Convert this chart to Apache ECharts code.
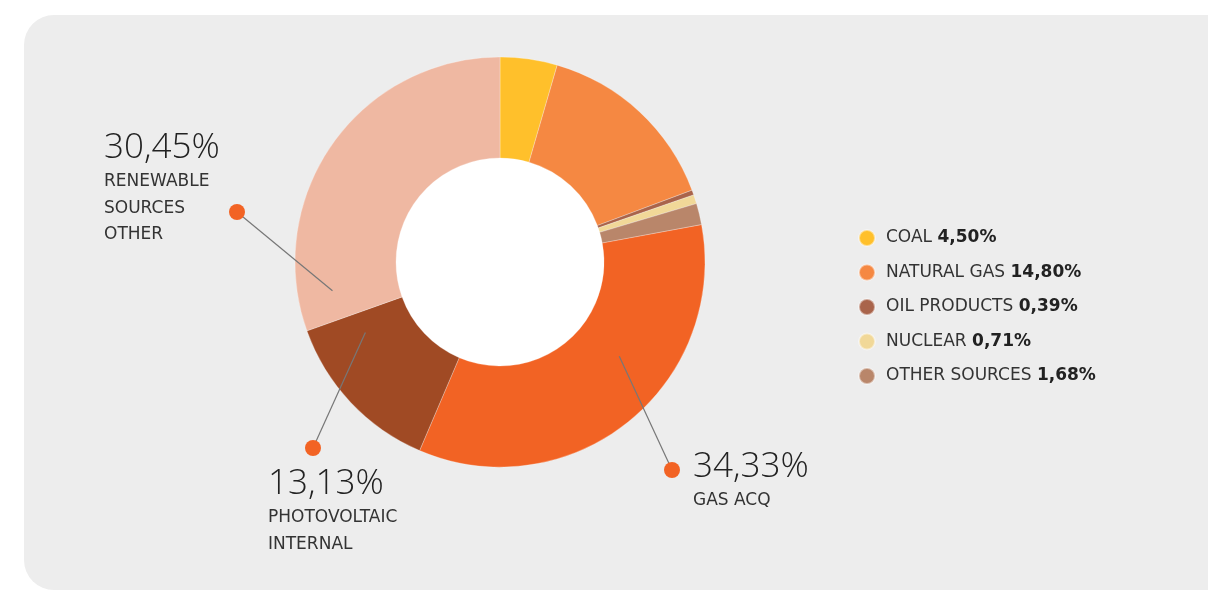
<!DOCTYPE html>
<html>
<head>
<meta charset="utf-8">
<title>Energy mix</title>
<script src="https://cdn.jsdelivr.net/npm/echarts@6/dist/echarts.min.js"></script>
<style>
  html, body { margin: 0; padding: 0; background: #ffffff; }
  #chart { width: 1208px; height: 591px; }
</style>
</head>
<body>
<div id="chart"></div>
<script>
// Energy sources, in slice order (clockwise from 12 o'clock)
const names = ['COAL', 'NATURAL GAS', 'OIL PRODUCTS', 'NUCLEAR', 'OTHER SOURCES',
               'GAS ACQ', 'PHOTOVOLTAIC\nINTERNAL', 'RENEWABLE\nSOURCES\nOTHER'];
const values = [4.50, 14.80, 0.39, 0.71, 1.68, 34.33, 13.13, 30.45];
const colors = ['#FFC02B', '#F58842', '#A9644B', '#F1D898', '#B9866A',
                '#F26324', '#A04A24', '#EFB8A2'];
// Small shares go in the legend, large ones get a callout
const legendNames = ['COAL', 'NATURAL GAS', 'OIL PRODUCTS', 'NUCLEAR', 'OTHER SOURCES'];
const calloutIdx = [7, 6, 5];

const FONT_BIG = '"Open Sans", "DejaVu Sans", sans-serif';
const FONT = '"DejaVu Sans", sans-serif';
const CX = 500, CY = 262, R0 = 104, R1 = 205;

const fmt = v => v.toFixed(2).replace('.', ',') + '%';

// Callout layout: where along the slice the leader starts, and where the dot / text sit
const calloutLayout = {
  7: { t: 0.09, r: 170, dot: [237, 212], text: [104, 148] },
  6: { t: 0.83, r: 152, dot: [313, 448], text: [268, 484] },
  5: { t: 0.395, r: 152, dot: [672, 470], text: [693, 467] }
};

const total = values.reduce((a, b) => a + b, 0);
const graphics = [{
  type: 'rect', z: -10, silent: true,
  shape: { x: 24, y: 15, width: 1260, height: 575, r: 30 },
  style: { fill: '#EDEDED' }
}, {
  // white disc inside the ring
  type: 'circle', z: -9, silent: true,
  shape: { cx: CX, cy: CY, r: R0 + 1 },
  style: { fill: '#ffffff' }
}];

// Angular span of each slice, from the data
let acc = 0;
const spans = values.map(v => {
  const a0 = -Math.PI / 2 + acc / total * Math.PI * 2;
  acc += v;
  const a1 = -Math.PI / 2 + acc / total * Math.PI * 2;
  return [a0, a1];
});

calloutIdx.forEach(i => {
  const L = calloutLayout[i];
  const [a0, a1] = spans[i];
  const a = a0 + L.t * (a1 - a0);
  const sx = CX + L.r * Math.cos(a), sy = CY + L.r * Math.sin(a);
  graphics.push({
    type: 'line', z: 10, silent: true,
    shape: { x1: sx, y1: sy, x2: L.dot[0], y2: L.dot[1] },
    style: { stroke: '#777777', lineWidth: 1.2 }
  });
  graphics.push({
    type: 'circle', z: 11, silent: true,
    shape: { cx: L.dot[0], cy: L.dot[1], r: 8 },
    style: { fill: '#F26324' }
  });
  graphics.push({
    type: 'text', z: 11, silent: true,
    x: L.text[0], y: L.text[1],
    style: {
      text: fmt(values[i]), fill: '#222222',
      font: '300 35px ' + FONT_BIG, textAlign: 'left', textVerticalAlign: 'middle'
    }
  });
  names[i].split('\n').forEach((ln, k) => {
    graphics.push({
      type: 'text', z: 11, silent: true,
      x: L.text[0], y: L.text[1] + 34 + k * 26.5,
      style: {
        text: ln, fill: '#333333',
        font: '400 17px ' + FONT, textAlign: 'left', textVerticalAlign: 'middle'
      }
    });
  });
});

const chart = echarts.init(document.getElementById('chart'), null, { renderer: 'canvas' });
chart.setOption({
  animation: false,
  backgroundColor: '#ffffff',
  color: colors,
  graphic: graphics,
  legend: {
    data: legendNames,
    orient: 'vertical',
    left: 853, top: 224,
    itemWidth: 16, itemHeight: 16, itemGap: 16.5,
    icon: 'circle',
    selectedMode: false,
    formatter: name => {
      const i = names.indexOf(name);
      return name + ' {b|' + fmt(values[i]) + '}';
    },
    textStyle: {
      fontFamily: FONT, fontSize: 17, color: '#333333',
      padding: [0, 0, 0, 6],
      rich: { b: { fontFamily: FONT, fontSize: 17, fontWeight: 'bold', color: '#222222' } }
    }
  },
  series: [{
    type: 'pie',
    center: [CX, CY],
    radius: [R0, R1],
    startAngle: 90,
    clockwise: true,
    silent: true,
    label: { show: false },
    labelLine: { show: false },
    itemStyle: { borderColor: 'rgba(255,255,255,0.45)', borderWidth: 0.6 },
    data: names.map((n, i) => ({ name: n, value: values[i], itemStyle: { color: colors[i] } }))
  }]
});
</script>
</body>
</html>
